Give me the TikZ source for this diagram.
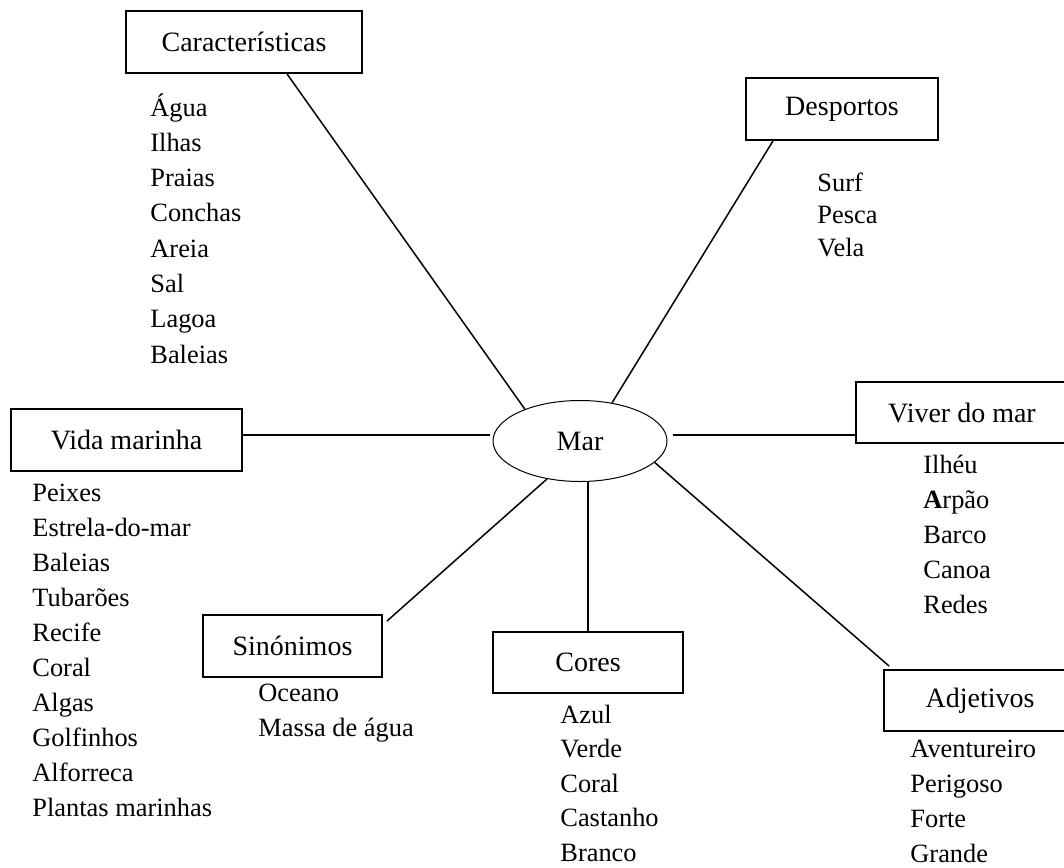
\documentclass[tikz,border=0pt]{standalone}
\usepackage{fontspec}
\setmainfont{Liberation Serif}
\usetikzlibrary{shapes.geometric}

\begin{document}
\begin{tikzpicture}[x=0.5pt, y=-0.5pt,
        topic/.style={draw, line width=0.9pt, minimum height=31pt, inner sep=0pt, font=\fontsize{14}{16}\selectfont},
        item/.style={anchor=base west, inner sep=0pt, font=\fontsize{13.2}{15}\selectfont},
        link/.style={line width=0.75pt}]
        \useasboundingbox (0,0) rectangle (1064,867);

        % Centre
        \node[ellipse, draw, line width=0.5pt, minimum width=87pt, minimum height=40.5pt, inner sep=0pt, font=\fontsize{14}{16}\selectfont] (mar) at (580,441) {Mar};

        % Topic boxes
        \node[topic, minimum width=118pt] (car) at (244,42) {Características};
        \node[topic, minimum width=96pt] (desp) at (842,109) {Desportos};
        \node[topic, minimum width=115.5pt] (vida) at (126.5,440) {Vida marinha};
        \node[topic, minimum width=106pt, minimum height=30.5pt] (viver) at (962,412.5) {Viver do mar};
        \node[topic, minimum width=89.5pt] (sin) at (292.5,646) {Sinónimos};
        \node[topic, minimum width=95pt, minimum height=30.5pt] (cores) at (588,662.5) {Cores};
        \node[topic, minimum width=96pt, minimum height=30.5pt] (adj) at (980,700.5) {Adjetivos};

        % Links to the centre
        \draw[link] ([xshift=21.5pt]car.south) -- (mar.150);
        \draw[link] ([xshift=-34.5pt]desp.south) -- (mar.50);
        \draw[link] (vida.east |- 0,435) -- ([xshift=-1.5pt]mar.west |- 0,435);
        \draw[link] ([xshift=2.5pt]mar.east |- 0,435) -- (viver.west |- 0,435);
        \draw[link] ([shift={(2pt,-3.5pt)}]sin.north east) -- (mar.229);
        \draw[link] (cores.north) -- (cores.north |- mar.south);
        \draw[link] (mar.344) -- ([shift={(3pt,1.5pt)}]adj.north west);

        % Word lists
        \foreach \w [count=\i] in {Água,Ilhas,Praias,Conchas,Areia,Sal,Lagoa,Baleias}
            \node[item] (car-\i) at (150,{116+35.3*(\i-1)}) {\w};
        \foreach \w [count=\i] in {Surf,Pesca,Vela}
            \node[item] (desp-\i) at (817,{191+32.5*(\i-1)}) {\w};
        \foreach \w [count=\i] in {Peixes,Estrela-do-mar,Baleias,Tubarões,Recife,Coral,Algas,Golfinhos,Alforreca,Plantas marinhas}
            \node[item] (vida-\i) at (32,{501+35*(\i-1)}) {\w};
        \foreach \w [count=\i] in {Ilhéu,\textbf{A}rpão,Barco,Canoa,Redes}
            \node[item] (viver-\i) at (923,{473+35*(\i-1)}) {\w};
        \foreach \w [count=\i] in {Oceano,Massa de água}
            \node[item] (sin-\i) at (258,{701+35*(\i-1)}) {\w};
        \foreach \w [count=\i] in {Azul,Verde,Coral,Castanho,Branco}
            \node[item] (cores-\i) at (560,{723+34.5*(\i-1)}) {\w};
        \foreach \w [count=\i] in {Aventureiro,Perigoso,Forte,Grande}
            \node[item] (adj-\i) at (910,{757+35.3*(\i-1)}) {\w};

    \end{tikzpicture}
\end{document}
